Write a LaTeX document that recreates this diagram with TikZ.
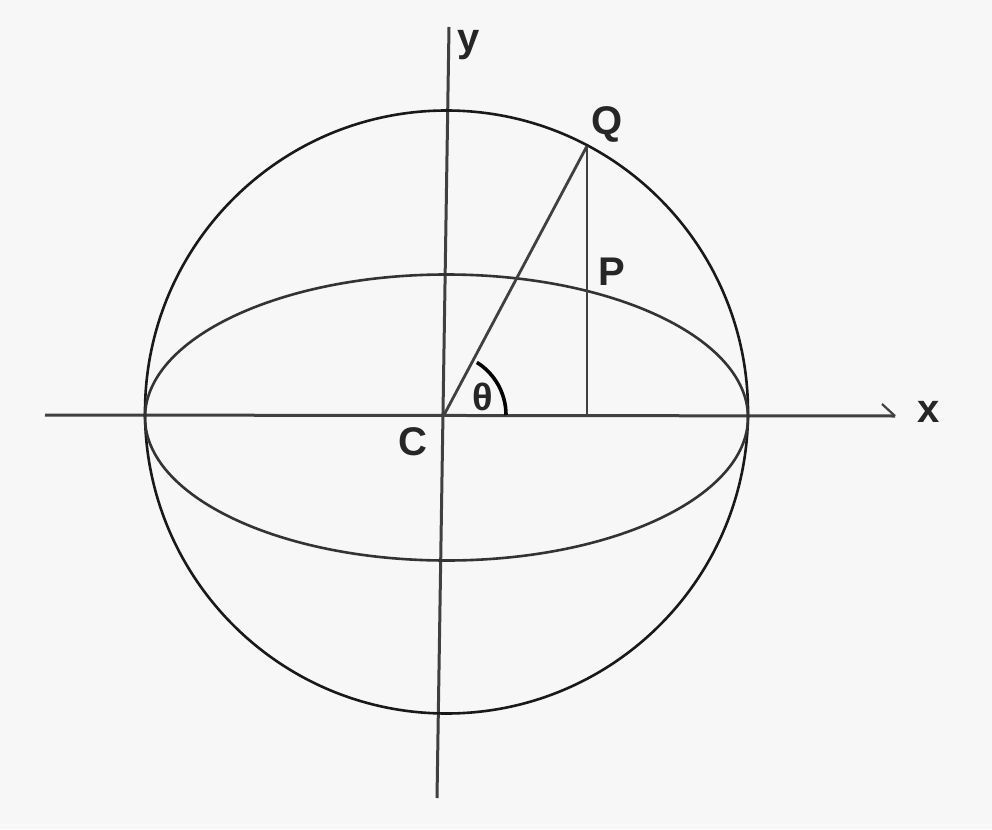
\documentclass[tikz,border=0pt]{standalone}
\usepackage{fontspec}
\setmainfont{Liberation Sans}
\begin{document}
\begin{tikzpicture}[x=1pt,y=-1pt,
  curve/.style={line width=2.6pt,black!90},
  axis/.style={line width=3pt,black!75},
  lbl/.style={font=\fontsize{40}{40}\selectfont\bfseries,text=black!85,inner sep=0pt}]
\useasboundingbox (0,0) rectangle (992,829);
\fill[white!97!black] (0,0) rectangle (992,829);
% axes
\coordinate (xl) at (45,415);
\coordinate (xr) at (895,416);
\coordinate (yt) at (449,27);
\coordinate (yb) at (437,798);
\coordinate (C) at (444,415);
\draw[axis] (xl) -- (xr);
\draw[axis,line width=2.2pt] (xr) -- ++(-13,-12);
\draw[axis] (yt) -- (yb);
% circle and ellipse
\draw[curve] (446.5,412) circle[radius=301.5];
\draw[curve,black!80] (446.5,417.5) ellipse[x radius=301.5,y radius=143];
% points
\coordinate (Q) at (587,146);
\coordinate (F) at (587,415);
\coordinate (P) at (587,290);
\draw[axis,line width=2.8pt] (C) -- (Q);
\draw[axis,line width=2.8pt] (Q) -- (F);
% angle
\draw[line width=3.6pt,black] (506,415) arc[start angle=0,end angle=-58,radius=62];
% labels
\node[lbl] (ly) at (469,45) {y};
\node[lbl] (lx) at (929,412) {x};
\node[lbl] (lQ) at (607,124) {Q};
\node[lbl] (lP) at (612,272) {P};
\node[lbl] (lC) at (413,442) {C};
\node[lbl,font=\fontsize{38}{38}\selectfont\bfseries] (lt) at (483,397) {θ};
\end{tikzpicture}
\end{document}
